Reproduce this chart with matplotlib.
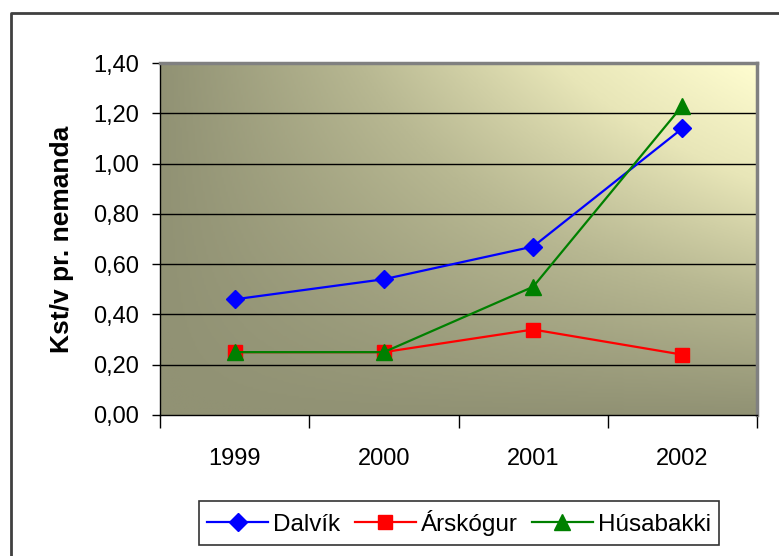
import numpy as np
import matplotlib
matplotlib.use("Agg")
import matplotlib.pyplot as plt
from matplotlib.colors import LinearSegmentedColormap
from matplotlib.lines import Line2D

plt.rcParams['font.family'] = ['Liberation Sans', 'DejaVu Sans']

years = ["1999", "2000", "2001", "2002"]
dalvik = [0.46, 0.54, 0.67, 1.14]
arskogur = [0.25, 0.25, 0.34, 0.24]
husabakki = [0.25, 0.25, 0.51, 1.23]
yticks = [0.0, 0.2, 0.4, 0.6, 0.8, 1.0, 1.2, 1.4]

fig = plt.figure(figsize=(7.79, 5.56), dpi=100)
ax = fig.add_axes([160 / 779, 1 - 415 / 556, (757 - 160) / 779, (415 - 63) / 556])

# outer chart border (only left and top edges fall inside the image)
bx, by = 11 / 779, 1 - 13 / 556
fig.lines.append(Line2D([bx, bx, 1.0], [0.0, by, by], transform=fig.transFigure,
                        color='#404040', linewidth=2))

# gradient background: dark bottom-left, light yellow top-right
nx, ny = 300, 200
gx = np.linspace(0, 1, nx)
gy = np.linspace(0, 1, ny)
X, Y = np.meshgrid(gx, gy)
T = X * Y
cmap = LinearSegmentedColormap.from_list("bg", ["#919274", "#b8b892", "#e8e6b8", "#fffdd0"])
ax.imshow(T, extent=[0, 4, 0, 1.4], origin='lower', aspect='auto', cmap=cmap,
          zorder=0, interpolation='bilinear')

x = np.arange(len(years)) + 0.5
ax.plot(x, dalvik, color='#0000ff', marker='D', markersize=9, linewidth=1.6,
        label='Dalvík', zorder=4)
ax.plot(x, arskogur, color='#ff0000', marker='s', markersize=9.5, linewidth=1.6,
        label='Árskógur', zorder=4)
ax.plot(x, husabakki, color='#008000', marker='^', markersize=11, linewidth=1.6,
        label='Húsabakki', zorder=4)

ax.set_xlim(0, 4)
ax.set_ylim(0, 1.4)
ax.set_yticks(yticks)
ax.set_yticklabels([f"{v:.2f}".replace('.', ',') for v in yticks], fontsize=17)
for v in yticks[1:-1]:
    ax.axhline(v, color='black', linewidth=1, zorder=1)

ax.set_xticks(x)
ax.set_xticklabels(years, fontsize=17)
ax.set_xticks(np.arange(len(years) + 1), minor=True)
ax.tick_params(axis='x', which='major', length=0, pad=24)
ax.tick_params(axis='x', which='minor', length=9, width=1, direction='out')
ax.tick_params(axis='y', length=6, width=1, direction='out', pad=9)

for s in ['top', 'right']:
    ax.spines[s].set_color('#808080')
    ax.spines[s].set_linewidth(2.5)
for s in ['left', 'bottom']:
    ax.spines[s].set_color('black')
    ax.spines[s].set_linewidth(1)

ax.set_ylabel("Kst/v pr. nemanda", fontsize=19, fontweight='bold', labelpad=14)

leg = fig.legend(loc='center', bbox_to_anchor=(459 / 779, 1 - 523 / 556), ncol=3,
                 fontsize=17.5, frameon=True, fancybox=False, edgecolor='black',
                 handlelength=2.5, handletextpad=0.2, columnspacing=0.6,
                 borderpad=0.35, borderaxespad=0)
leg.get_frame().set_linewidth(1.2)

fig.savefig("out.png", dpi=100)
